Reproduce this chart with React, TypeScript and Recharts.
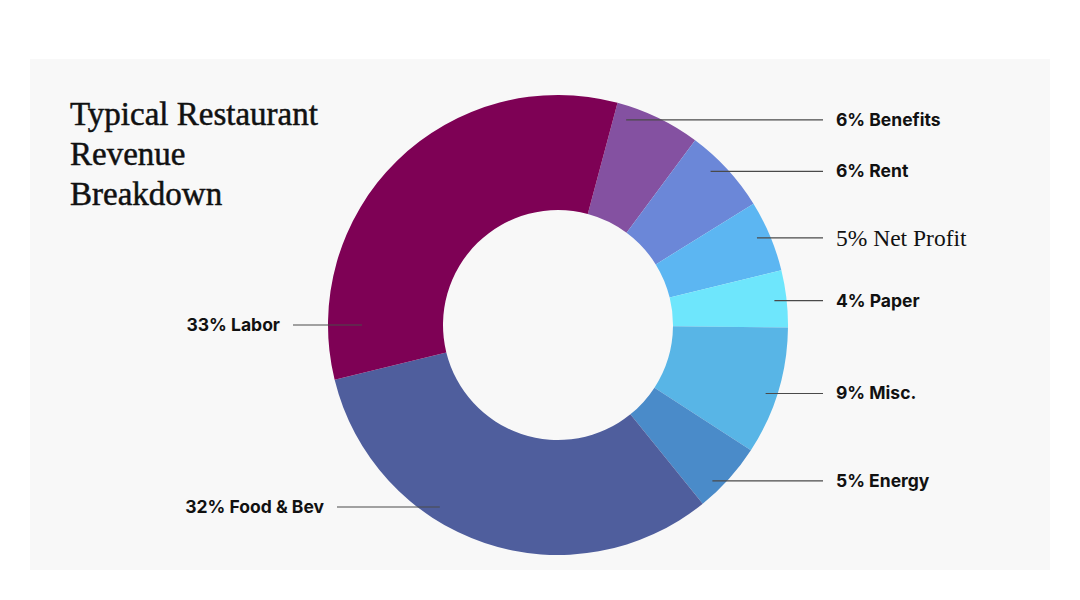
import React from 'react';
import { PieChart, Pie, Cell } from 'recharts';

const categories = ['Benefits', 'Rent', 'Net Profit', 'Paper', 'Misc.', 'Energy', 'Food & Bev', 'Labor'];
const shares = [6, 6, 5, 4, 9, 5, 32, 33];
const sliceColors = ['#8451a1', '#6b87d8', '#5cb6f2', '#6ee6fc', '#58b5e6', '#4a8bc9', '#4f5e9d', '#7e0155'];
const titleLines = ['Typical Restaurant', 'Revenue', 'Breakdown'];

const data = categories.map((name, i) => ({ name, value: shares[i] }));

const CX = 558;
const CY = 325;
const OUTER = 230;
const INNER = 115;
const RAD = Math.PI / 180;

// left-hand labels are placed by hand in the original, not at mid angle
const leftLeaders: Record<string, { angle: number; r: number; x2: number }> = {
    Labor: { angle: 180, r: 196, x2: 293 },
    'Food & Bev': { angle: -123, r: 217, x2: 337 },
};

const labelFont = { fontFamily: 'Inter, sans-serif', fontWeight: 700, fontSize: 17.5 };

const renderLabel = (props: any) => {
    const { midAngle, name, value, index } = props;
    const text = `${value}% ${name}`;
    const left = leftLeaders[name];
    if (left) {
        const x1 = CX + left.r * Math.cos(left.angle * RAD);
        const y1 = CY - left.r * Math.sin(left.angle * RAD);
        return (
            <g key={`lbl-${index}`}>
                <line x1={x1} y1={y1} x2={left.x2} y2={y1} stroke="#4a4a4a" strokeWidth={1.2} />
                <text x={left.x2 - 13} y={y1} dy={6} textAnchor="end" fill="#111" style={labelFont}>
                    {text}
                </text>
            </g>
        );
    }
    const dy = -OUTER * Math.sin(midAngle * RAD);
    const y = CY + dy + 2;
    const x1 = CX + Math.sqrt(Math.max(0, 218 * 218 - dy * dy));
    const serif = name === 'Net Profit';
    return (
        <g key={`lbl-${index}`}>
            <line x1={x1} y1={y} x2={823} y2={y} stroke="#4a4a4a" strokeWidth={1.2} />
            <text x={836} y={y} dy={serif ? 8 : 6} textAnchor="start" fill="#111"
                style={serif
                    ? { fontFamily: '"Liberation Serif", serif', fontWeight: 400, fontSize: 23.5 }
                    : labelFont}>
                {text}
            </text>
        </g>
    );
};

export default function App() {
    return (
        <div style={{ position: 'absolute', left: 0, top: 0, width: 1080, height: 600, background: '#ffffff' }}>
            <div style={{ position: 'absolute', left: 30, top: 59, width: 1020, height: 511, background: '#f8f8f8' }} />
            <div style={{
                position: 'absolute', left: 70, top: 94, fontFamily: '"Liberation Serif", serif',
                fontSize: 33, lineHeight: '40px', color: '#111', WebkitTextStroke: '0.5px #111',
            }}>
                {titleLines.map((t) => <div key={t}>{t}</div>)}
            </div>
            <div style={{ position: 'absolute', left: 0, top: 0 }}>
                <PieChart width={1080} height={600} margin={{ top: 0, right: 0, bottom: 0, left: 0 }}>
                    <Pie
                        data={data}
                        dataKey="value"
                        nameKey="name"
                        cx={CX}
                        cy={CY}
                        innerRadius={INNER}
                        outerRadius={OUTER}
                        startAngle={75}
                        endAngle={-285}
                        stroke="none"
                        label={renderLabel}
                        labelLine={false}
                        isAnimationActive={false}
                    >
                        {data.map((d, i) => (
                            <Cell key={d.name} fill={sliceColors[i]} stroke="none" />
                        ))}
                    </Pie>
                </PieChart>
            </div>
        </div>
    );
}
